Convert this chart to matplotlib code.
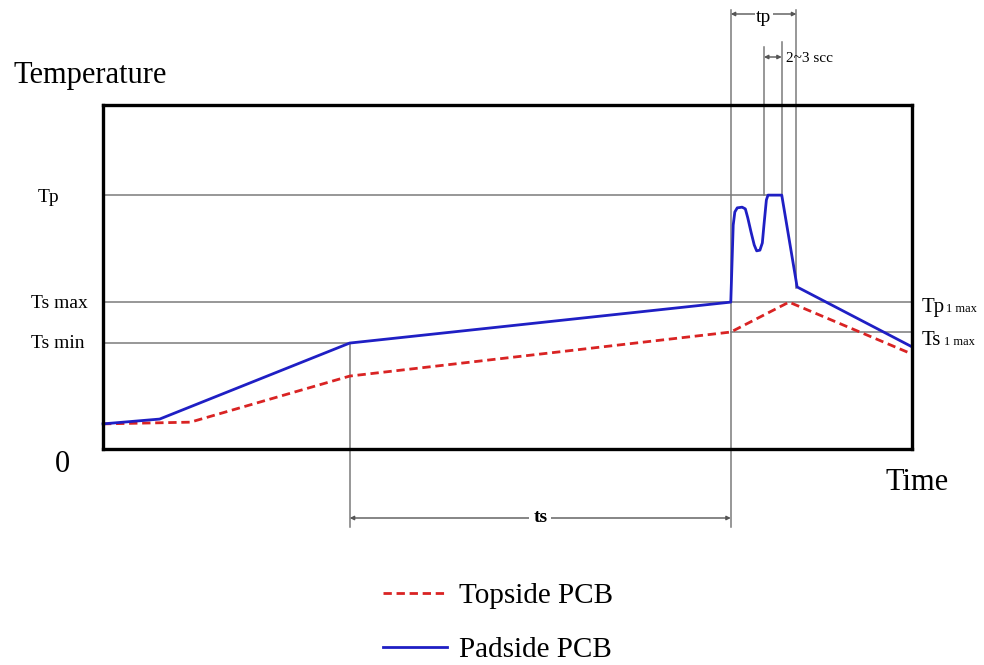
import matplotlib
matplotlib.use("Agg")
import matplotlib.pyplot as plt

plt.rcParams['font.family'] = ['Liberation Serif', 'DejaVu Serif']

# time / temperature on a 0-100 scale (box = 0..100 both ways)
pad_t = [0, 7.0, 30.5, 77.6, 77.9, 78.1, 78.4, 79.0, 79.4, 79.7, 80.1, 80.5, 80.8,
         81.2, 81.5, 81.7, 82.0, 82.2, 83.9, 85.8, 100]
pad_T = [7.3, 8.7, 30.8, 42.7, 65.1, 68.9, 70.1, 70.3, 69.8, 67.2, 63.1, 59.3, 57.6,
         57.8, 59.9, 65.1, 72.4, 73.8, 73.8, 47.1, 29.7]
top_t = [0, 10.8, 30.5, 77.6, 84.8, 100]
top_T = [7.3, 7.8, 21.2, 34.0, 42.7, 27.6]

# reference levels
Tp = 73.8
Ts_max = 42.7
Ts_min = 30.8
Ts1_max = 34.0
t_s0 = 30.5
t_s1 = 77.6
t_p1 = 81.7
t_p2 = 83.9
t_p3 = 85.7

W, H = 984, 665
fig = plt.figure(figsize=(W / 100, H / 100), dpi=100)
bx0, bx1, by0, by1 = 103, 912, 105, 449
ax = fig.add_axes([bx0 / W, (H - by1) / H, (bx1 - bx0) / W, (by1 - by0) / H])
ax.set_xlim(0, 100)
ax.set_ylim(0, 100)
ax.set_xticks([])
ax.set_yticks([])
for s in ax.spines.values():
    s.set_linewidth(2.4)
    s.set_zorder(5)


def yv(py):
    return (by1 - py) / (by1 - by0) * 100


def fx(px):
    return px / W


def fy(py):
    return (H - py) / H


guide = dict(color='#7a7a7a', lw=1.1, clip_on=False, zorder=1)
ax.plot([0, 83], [Tp, Tp], **guide)
ax.plot([0, 100], [Ts_max, Ts_max], **guide)
ax.plot([0, t_s0], [Ts_min, Ts_min], **guide)
ax.plot([t_s1, 100], [Ts1_max, Ts1_max], **guide)
ax.plot([t_s0, t_s0], [Ts_min, yv(527)], **guide)
ax.plot([t_s1, t_s1], [yv(10), yv(527)], **guide)
ax.plot([t_p1, t_p1], [yv(47), Tp], **guide)
ax.plot([t_p2, t_p2], [yv(42), Tp], **guide)
ax.plot([t_p3, t_p3], [yv(10), yv(288)], **guide)

red, = ax.plot(top_t, top_T, color='#d92323', lw=2.0, ls=(0, (3.0, 1.7)), zorder=3,
               clip_on=False, label='Topside PCB')
blue, = ax.plot(pad_t, pad_T, color='#1f1fc4', lw=2.0, zorder=4, clip_on=False,
                solid_joinstyle='round', label='Padside PCB')

arr = dict(arrowstyle='<|-|>', color='#555555', lw=1.0, mutation_scale=6,
           shrinkA=0, shrinkB=0)
ax.annotate('', xy=(t_s0, yv(518)), xytext=(t_s1, yv(518)), arrowprops=arr,
            annotation_clip=False)
ax.text((t_s0 + t_s1) / 2, yv(518), 'ts', ha='center', va='center', fontsize=14,
        fontweight='bold', bbox=dict(facecolor='white', edgecolor='none', pad=3))
ax.annotate('', xy=(t_s1, yv(14)), xytext=(t_p3, yv(14)), arrowprops=arr,
            annotation_clip=False)
ax.text((t_s1 + t_p3) / 2, yv(18), 'tp', ha='center', va='center', fontsize=14,
        bbox=dict(facecolor='white', edgecolor='none', pad=1))
ax.annotate('', xy=(t_p1, yv(57)), xytext=(t_p2, yv(57)), arrowprops=arr,
            annotation_clip=False)
fig.text(fx(786), fy(58), '2~3 scc', ha='left', va='center', fontsize=11)

# axis words and level labels
fig.text(fx(13), fy(75), 'Temperature', ha='left', va='center', fontsize=22)
fig.text(fx(885), fy(482), 'Time', ha='left', va='center', fontsize=22)
fig.text(fx(62), fy(465), '0', ha='center', va='center', fontsize=22)
fig.text(fx(38), fy(198), 'Tp', ha='left', va='center', fontsize=14)
fig.text(fx(31), fy(304), 'Ts max', ha='left', va='center', fontsize=14)
fig.text(fx(31), fy(344), 'Ts min', ha='left', va='center', fontsize=14)
fig.text(fx(922), fy(312), 'Tp', ha='left', va='baseline', fontsize=15)
fig.text(fx(946), fy(312), '1 max', ha='left', va='baseline', fontsize=9)
fig.text(fx(922), fy(345), 'Ts', ha='left', va='baseline', fontsize=15)
fig.text(fx(944), fy(345), '1 max', ha='left', va='baseline', fontsize=9)

fig.legend(handles=[red, blue], loc='center left',
           bbox_to_anchor=(383 / W, fy(623)), frameon=False, fontsize=21,
           handlelength=2.2, handletextpad=0.4, labelspacing=0.95,
           borderpad=0, borderaxespad=0)

fig.savefig('out.png', dpi=100)
